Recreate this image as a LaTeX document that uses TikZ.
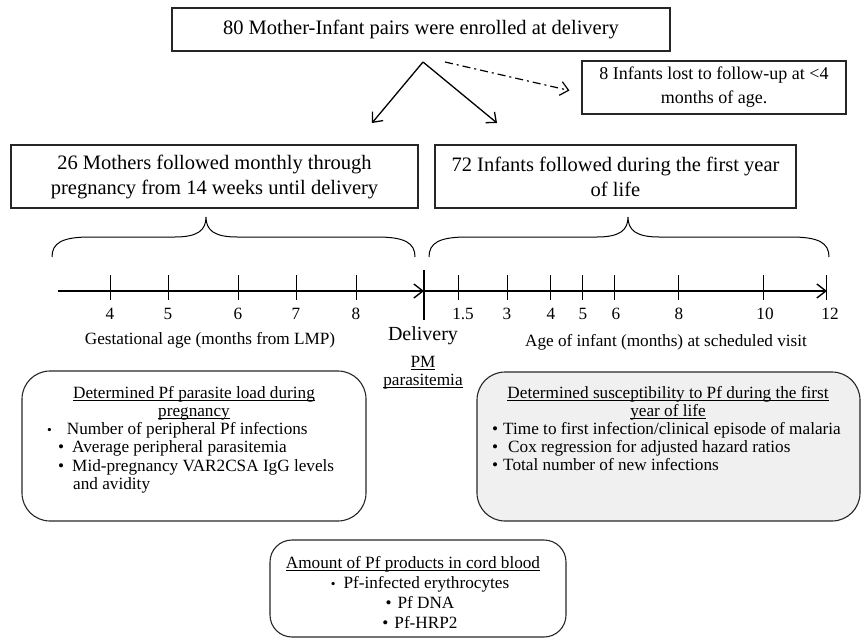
\documentclass[tikz,border=0pt]{standalone}
\usepackage{fontspec}
\setmainfont{Liberation Serif}
\usetikzlibrary{arrows.meta}
\newcommand{\ulin}[1]{\leavevmode\setbox0=\hbox{#1}\rlap{\rule[-2.6pt]{\wd0}{0.8pt}}\box0}
\begin{document}
\begin{tikzpicture}[x=1pt,y=-1pt,
  sqbox/.style={draw=black!85, line width=1.1pt, inner sep=0pt, align=center},
  rbox/.style={draw=black!85, line width=1.1pt, rounded corners=28pt, inner sep=0pt},
  big/.style={font=\fontsize{20.5}{25}\selectfont},
  lbl/.style={inner sep=0pt, anchor=base, font=\fontsize{17.2}{18.5}\selectfont},
  lblw/.style={lbl, anchor=base west},
  tip/.style={-{Straight Barb[length=8pt,width=14pt]}, line width=1.3pt},
  axisline/.style={line width=1.4pt, -{Straight Barb[length=9pt,width=14pt]}},
  tickline/.style={line width=1pt},
  bracepath/.style={line width=1pt},
]
\useasboundingbox (0,0) rectangle (862,640);

% top boxes
\node[sqbox, big, minimum width=498pt, minimum height=43pt] (top) at (421,29.5) {80 Mother-Infant pairs were enrolled at delivery};
\node[sqbox, font=\fontsize{18}{24}\selectfont, minimum width=264pt, minimum height=53pt] (loss) at (714,87.5) {8 Infants lost to follow-up at <4\\months of age.};
\node[sqbox, big, minimum width=407pt, minimum height=63pt] (moth) at (214.5,176.5) {26 Mothers followed monthly through\\pregnancy from 14 weeks until delivery};
\node[sqbox, big, minimum width=361pt, minimum height=63pt] (inf) at (615.5,176.5) {72 Infants followed during the first year\\of life};

% arrows
\coordinate (split) at (423,62);
\coordinate (la) at (372,123);
\coordinate (ra) at (497,123);
\coordinate (dd) at (445,62);
\draw[tip] (split) -- (la);
\draw[tip] (split) -- (ra);
\draw[tip, line width=1.2pt, dash pattern=on 8pt off 4pt on 2pt off 4pt] (dd) -- ([xshift=-12pt,yshift=-3pt]loss.west);

% braces
\draw[bracepath] (52,257) .. controls (52,243) and (62,237) .. (90,237) -- (175,237)
  .. controls (198,237) and (206,230) .. (206,217)
  .. controls (206,230) and (214,237) .. (237,237) -- (377,237)
  .. controls (405,237) and (415,243) .. (415,257);
\draw[bracepath] (429,257) .. controls (429,243) and (439,237) .. (467,237) -- (597,237)
  .. controls (620,237) and (628,230) .. (628,217)
  .. controls (628,230) and (636,237) .. (659,237) -- (791,237)
  .. controls (819,237) and (829,243) .. (829,257);

% axis
\coordinate (a0) at (58,291);
\coordinate (a1) at (424,291);
\coordinate (a2) at (827,291);
\draw[axisline] (a0) -- (a1);
\draw[axisline] (a1) -- (a2);
\coordinate (dtop) at (424,270);
\coordinate (dbot) at (424,320);
\draw[line width=2pt] (dtop) -- (dbot);
\foreach \x/\t/\lx [count=\i] in {110/4/110, 168/5/168, 238/6/238, 296/7/296, 356/8/356, 458/1.5/463, 507/3/507, 550/4/551, 582/5/583, 614/6/616, 678/8/679, 763/10/765, 826/12/830} {
  \draw[tickline] (\x,275) -- (\x,300);
  \node[lbl] (n\i) at (\lx,319) {\t};
}
\node[lbl] (gest) at (210,344) {Gestational age (months from LMP)};
\node[lbl] (age) at (666,346) {Age of infant (months) at scheduled visit};
\node[lbl, font=\fontsize{20}{22}\selectfont] (deliv) at (423,340) {Delivery};
\node[lbl] (pm) at (423,367) {\ulin{PM}};
\node[lbl] (para) at (423,385) {\ulin{parasitemia}};

% left box
\node[rbox, minimum width=344pt, minimum height=150pt] (lbox) at (194,446) {};
\node[lbl] (lt1) at (194,398) {\ulin{Determined Pf parasite load during}};
\node[lbl] (lt2) at (194,416) {\ulin{pregnancy}};
\node[lblw] (lb1) at (47,434) {{\fontsize{13.5}{13.5}\selectfont •}\hspace{15pt}Number of peripheral Pf infections};
\node[lblw] (lb2) at (58,452) {•\hspace{8pt}Average peripheral parasitemia};
\node[lblw] (lb3) at (58,471) {•\hspace{8pt}Mid-pregnancy VAR2CSA IgG levels};
\node[lblw] (lb4) at (73,489) {and avidity};

% right box
\node[rbox, fill=black!6, minimum width=383pt, minimum height=149pt] (rbx) at (668.5,446.5) {};
\node[lbl] (rt1) at (668,398) {\ulin{Determined susceptibility to Pf during the first}};
\node[lbl] (rt2) at (668,416) {\ulin{year of life}};
\node[lblw] (rb1) at (492,434) {•\hspace{5pt}Time to first infection/clinical episode of malaria};
\node[lblw] (rb2) at (492,452) {•\hspace{10pt}Cox regression for adjusted hazard ratios};
\node[lblw] (rb3) at (492,470) {•\hspace{5pt}Total number of new infections};

% bottom box
\node[rbox, rounded corners=22pt, minimum width=296pt, minimum height=97pt] (bbox) at (418,588.5) {};
\node[lbl] (bt) at (413,568) {\ulin{Amount of Pf products in cord blood}};
\node[lbl] (bb1) at (420,588) {{\fontsize{13.5}{13.5}\selectfont •}\hspace{8pt}Pf-infected erythrocytes};
\node[lbl] (bb2) at (420,608) {•\hspace{6pt}Pf DNA};
\node[lbl] (bb3) at (420,628) {•\hspace{6pt}Pf-HRP2};
\end{tikzpicture}
\end{document}
